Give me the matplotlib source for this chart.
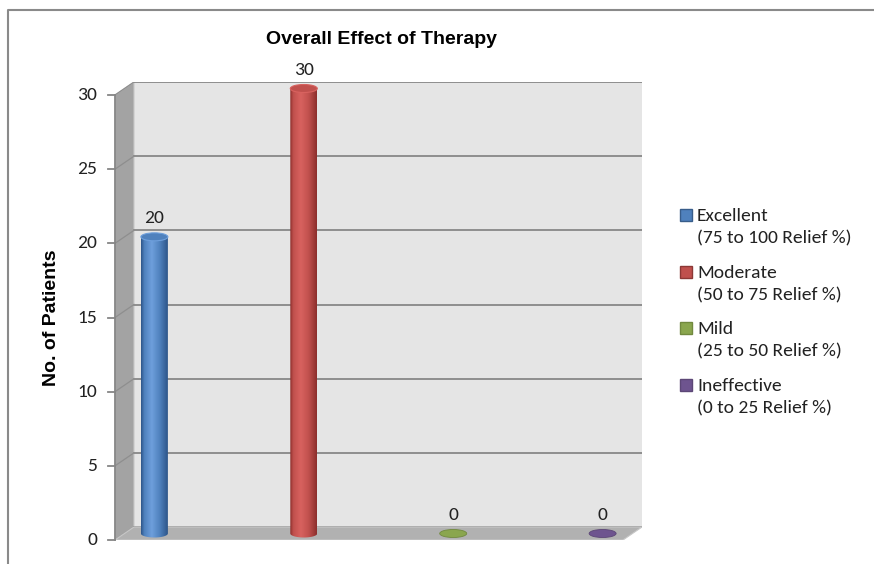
import matplotlib
matplotlib.use('Agg')
import matplotlib.pyplot as plt
import numpy as np
from matplotlib.colors import LinearSegmentedColormap
from matplotlib.lines import Line2D
from matplotlib.patches import Ellipse, PathPatch, Polygon, Rectangle
from matplotlib.path import Path

categories = ['Excellent', 'Moderate', 'Mild', 'Ineffective']
relief = ['(75 to 100 Relief %)', '(50 to 75 Relief %)', '(25 to 50 Relief %)', '(0 to 25 Relief %)']
patients = [20, 30, 0, 0]
y_ticks = [0, 5, 10, 15, 20, 25, 30]

face = ['#4f81bd', '#c0504d', '#8aa64e', '#6e548f']
light = ['#6e9fdc', '#d8625f', '#a6c46a', '#8a6fae']
dark = ['#2d5589', '#8c2e2c', '#6b863a', '#56406f']
edge = ['#385d8a', '#8c3836', '#71893f', '#5c4776']

W, H = 874, 564
fig = plt.figure(figsize=(W / 100, H / 100), dpi=100)

# front plane of the 3-D box in pixels, plus its depth
x_left, x_right, y_bottom, y_top = 115, 623, 540, 95
depth_x, depth_y = 19, 13
ax = fig.add_axes([x_left / W, 1 - y_bottom / H,
                   (x_right + depth_x - x_left) / W, (y_bottom - y_top + depth_y) / H])
x0, x1 = -0.2, 3.2
ymax = 30
px_x = (x_right - x_left) / (x1 - x0)
px_y = (y_bottom - y_top) / ymax
dx = depth_x / px_x
dy = depth_y / px_y

num_font = 'Carlito'
num_size = 14

# walls and floor
ax.add_patch(Polygon([(x0 + dx, dy), (x1 + dx, dy), (x1 + dx, ymax + dy), (x0 + dx, ymax + dy)],
                     closed=True, facecolor='#e5e5e5', edgecolor='none', zorder=1))
ax.add_patch(Polygon([(x0, 0), (x0, ymax), (x0 + dx, ymax + dy), (x0 + dx, dy)],
                     closed=True, facecolor='#a3a3a3', edgecolor='#c8c8c8', lw=0.8, zorder=1))
ax.add_patch(Polygon([(x0, 0), (x1, 0), (x1 + dx, dy), (x0 + dx, dy)],
                     closed=True, facecolor='#b1b1b1', edgecolor='#c8c8c8', lw=0.8, zorder=2))

for v in y_ticks:
    ax.plot([x0 + dx, x1 + dx], [v + dy, v + dy], color='#8e8e8e', lw=1.4, zorder=1.5)
    ax.plot([x0, x0 + dx], [v, v + dy], color='#8e8e8e', lw=0.9, zorder=1.5)
    ax.plot([x0 - 7 / px_x, x0], [v, v], color='#868686', lw=1.3, zorder=3, clip_on=False)
    ax.text(x0 - 18 / px_x, v, str(v), ha='right', va='center', family=num_font,
            fontsize=num_size, color='#222222')
ax.plot([x0, x0], [0, ymax], color='#868686', lw=1.3, zorder=3, clip_on=False)

# cylinders standing half way into the box
hw = 13.5 / px_x
eh = 8 / px_y
for i, v in enumerate(patients):
    xc = i + dx / 2
    yb = dy / 2
    yt = v + dy / 2
    if v > 0:
        t = np.linspace(np.pi, 2 * np.pi, 40)
        verts = [(xc - hw, yt), (xc - hw, yb)]
        verts += list(zip(xc + hw * np.cos(t), yb + eh / 2 * np.sin(t)))
        verts += [(xc + hw, yt), (xc - hw, yt)]
        body = Path(verts, [Path.MOVETO] + [Path.LINETO] * (len(verts) - 2) + [Path.CLOSEPOLY])
        cmap = LinearSegmentedColormap.from_list(
            'cyl', [(0, dark[i]), (0.12, face[i]), (0.4, light[i]), (0.7, face[i]), (1, dark[i])])
        im = ax.imshow(np.linspace(0, 1, 120).reshape(1, -1), cmap=cmap, aspect='auto',
                       extent=[xc - hw, xc + hw, yb - eh / 2, yt], zorder=4, interpolation='bilinear')
        im.set_clip_path(PathPatch(body, transform=ax.transData))
        ax.add_patch(Ellipse((xc, yt), 2 * hw, eh, facecolor=face[i], edgecolor=light[i],
                             lw=0.8, zorder=5))
    else:
        ax.add_patch(Ellipse((xc, yb), 2 * hw, eh, facecolor=face[i], edgecolor=edge[i],
                             lw=0.6, zorder=5))
    ax.text(xc, yt + eh / 2 + 7 / px_y, str(v), ha='center', va='bottom', family=num_font,
            fontsize=num_size, color='#222222', zorder=6)

ax.set_xlim(x0, x1 + dx)
ax.set_ylim(0, ymax + dy)
ax.axis('off')

fig.text(381 / W, 1 - 40 / H, 'Overall Effect of Therapy', ha='center', va='center',
         family='Liberation Sans', fontweight='bold', fontsize=14)
fig.text(52 / W, 1 - 318 / H, 'No. of Patients', ha='center', va='center', rotation=90,
         family='Liberation Sans', fontweight='bold', fontsize=14)

# legend, one square per category with a two-line label
for i, (name, rng) in enumerate(zip(categories, relief)):
    base = 221 + i * 56.7
    fig.add_artist(Rectangle((680 / W, 1 - base / H), 12 / W, 12 / H, transform=fig.transFigure,
                             facecolor=face[i], edgecolor=edge[i], lw=1))
    fig.text(697 / W, 1 - base / H, name, va='baseline', family=num_font, fontsize=num_size,
             color='#222222')
    fig.text(697 / W, 1 - (base + 22.5) / H, rng, va='baseline', family=num_font,
             fontsize=num_size, color='#222222')

# chart area border
fig.add_artist(Line2D([8 / W, 8 / W, 1], [0, 1 - 10 / H, 1 - 10 / H], transform=fig.transFigure,
                      color='#8a8a8a', lw=1.5))

fig.savefig('out.png', dpi=100)
